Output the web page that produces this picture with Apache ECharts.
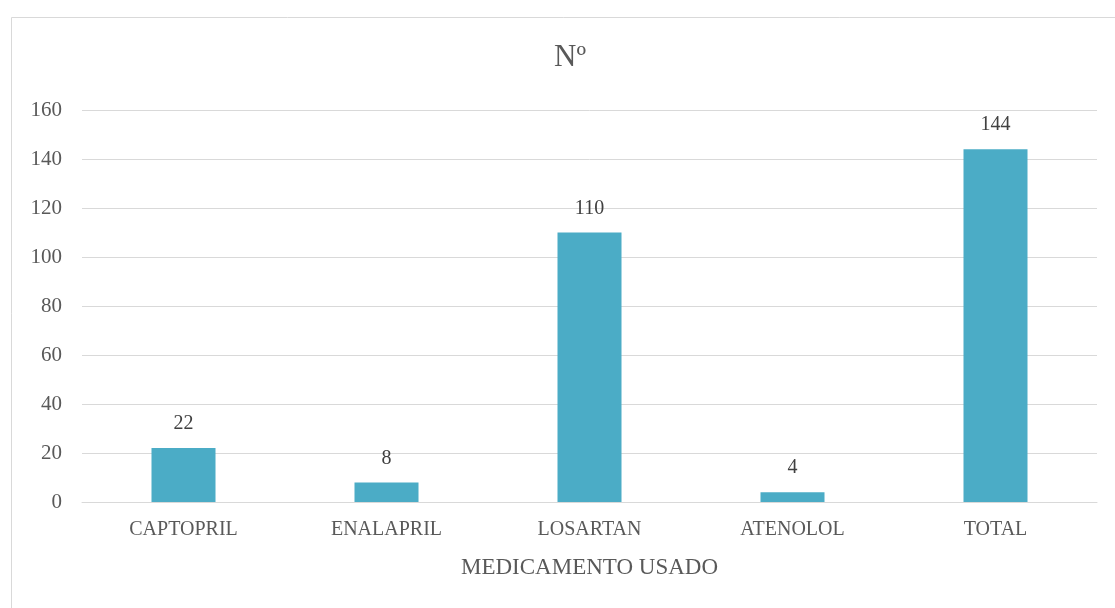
<!DOCTYPE html>
<html><head><meta charset="utf-8">
<script src="https://cdn.jsdelivr.net/npm/echarts@6/dist/echarts.min.js"></script>
<style>html,body{margin:0;padding:0;background:#fff}#c{width:1115px;height:608px}</style>
</head><body><div id="c"></div>
<script>
const categories = ['CAPTOPRIL','ENALAPRIL','LOSARTAN','ATENOLOL','TOTAL'];
const values = [22, 8, 110, 4, 144];
const yTicks = {min:0, max:160, interval:20};
const titleText = 'Nº';
const xName = 'MEDICAMENTO USADO';

const font = '"Liberation Serif", "Times New Roman", serif';
const chart = echarts.init(document.getElementById('c'));
chart.setOption({
  animation:false,
  backgroundColor:'#fff',
  graphic:[{type:'rect',shape:{x:11.5,y:17.5,width:1120,height:620},style:{fill:'none',stroke:'#d9d9d9',lineWidth:1},silent:true}],
  title:{text:titleText,left:565,top:37,textAlign:'center',textStyle:{fontFamily:font,fontSize:31,fontWeight:'normal',color:'#595959'}},
  grid:{left:82,right:18,top:110,bottom:106,containLabel:false},
  xAxis:{type:'category',data:categories,
    name:xName,nameLocation:'middle',nameGap:54,
    nameTextStyle:{fontFamily:font,fontSize:23,color:'#595959'},
    axisLine:{lineStyle:{color:'#d9d9d9'}},axisTick:{show:false},
    axisLabel:{fontFamily:font,fontSize:20,color:'#595959',margin:18}},
  yAxis:{type:'value',min:yTicks.min,max:yTicks.max,interval:yTicks.interval,
    axisLine:{show:false},axisTick:{show:false},
    splitLine:{lineStyle:{color:'#d9d9d9'}},
    axisLabel:{fontFamily:font,fontSize:21,color:'#595959',margin:20}},
  series:[{type:'bar',data:values,barWidth:64,
    itemStyle:{color:'#4bacc6'},
    label:{show:true,position:'top',distance:14,fontFamily:font,fontSize:20,color:'#404040'}}]
});
</script></body></html>
